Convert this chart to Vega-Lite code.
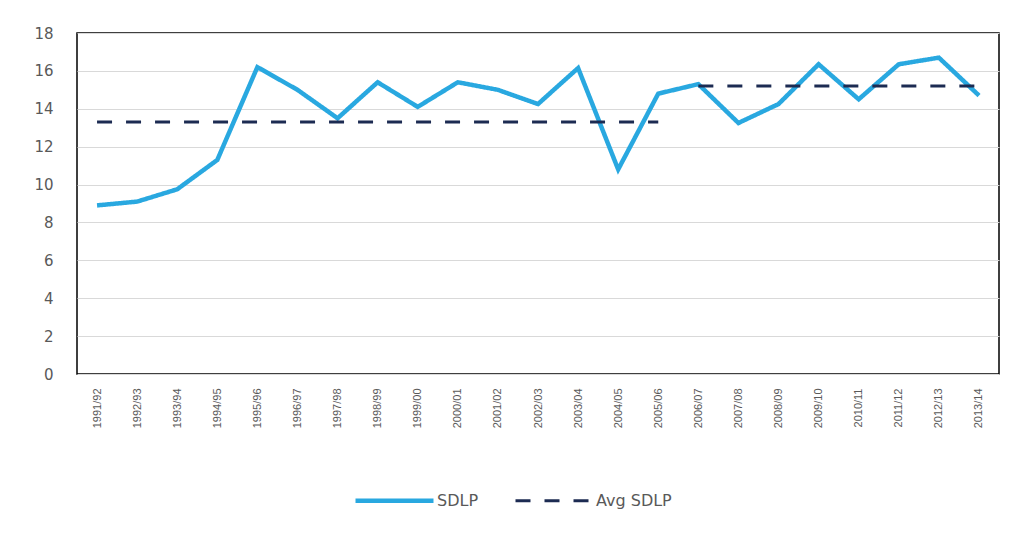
{
  "$schema": "https://vega.github.io/schema/vega-lite/v6.json",
  "autosize": "none",
  "width": 922,
  "height": 341,
  "padding": {"left": 77, "top": 33, "right": 20, "bottom": 160},
  "background": "white",
  "config": {
    "view": {"stroke": "#000000", "strokeWidth": 1.5},
    "axis": {"labelColor": "#595959", "ticks": false, "domain": false, "gridColor": "#D9D9D9", "gridWidth": 1},
    "legend": {
      "orient": "none",
      "legendX": 276,
      "legendY": 452,
      "direction": "horizontal",
      "symbolType": "M-1,0H5",
      "symbolSize": 676,
      "labelFont": "DejaVu Sans",
      "labelFontSize": 16,
      "labelColor": "#595959",
      "labelOffset": 53,
      "columnPadding": 30
    }
  },
  "data": {
    "values": [
      {"year": "1991/92", "series": "SDLP", "seg": "s", "value": 8.9},
      {"year": "1992/93", "series": "SDLP", "seg": "s", "value": 9.1},
      {"year": "1993/94", "series": "SDLP", "seg": "s", "value": 9.75},
      {"year": "1994/95", "series": "SDLP", "seg": "s", "value": 11.3},
      {"year": "1995/96", "series": "SDLP", "seg": "s", "value": 16.2},
      {"year": "1996/97", "series": "SDLP", "seg": "s", "value": 15.0},
      {"year": "1997/98", "series": "SDLP", "seg": "s", "value": 13.5},
      {"year": "1998/99", "series": "SDLP", "seg": "s", "value": 15.4},
      {"year": "1999/00", "series": "SDLP", "seg": "s", "value": 14.1},
      {"year": "2000/01", "series": "SDLP", "seg": "s", "value": 15.4},
      {"year": "2001/02", "series": "SDLP", "seg": "s", "value": 15.0},
      {"year": "2002/03", "series": "SDLP", "seg": "s", "value": 14.25},
      {"year": "2003/04", "series": "SDLP", "seg": "s", "value": 16.15},
      {"year": "2004/05", "series": "SDLP", "seg": "s", "value": 10.8},
      {"year": "2005/06", "series": "SDLP", "seg": "s", "value": 14.8},
      {"year": "2006/07", "series": "SDLP", "seg": "s", "value": 15.3},
      {"year": "2007/08", "series": "SDLP", "seg": "s", "value": 13.25},
      {"year": "2008/09", "series": "SDLP", "seg": "s", "value": 14.25},
      {"year": "2009/10", "series": "SDLP", "seg": "s", "value": 16.35},
      {"year": "2010/11", "series": "SDLP", "seg": "s", "value": 14.5},
      {"year": "2011/12", "series": "SDLP", "seg": "s", "value": 16.35},
      {"year": "2012/13", "series": "SDLP", "seg": "s", "value": 16.7},
      {"year": "2013/14", "series": "SDLP", "seg": "s", "value": 14.7},
      {"year": "1991/92", "series": "Avg SDLP", "seg": "p1", "value": 13.3},
      {"year": "2005/06", "series": "Avg SDLP", "seg": "p1", "value": 13.3},
      {"year": "2006/07", "series": "Avg SDLP", "seg": "p2", "value": 15.2},
      {"year": "2013/14", "series": "Avg SDLP", "seg": "p2", "value": 15.2}
    ]
  },
  "mark": {"type": "line", "strokeCap": "butt"},
  "encoding": {
    "x": {
      "field": "year",
      "type": "ordinal",
      "scale": {"type": "point", "padding": 0.5},
      "axis": {
        "title": null,
        "labelAngle": -90,
        "labelPadding": 14,
        "labelFont": "Liberation Sans",
        "labelFontSize": 11,
        "grid": false
      }
    },
    "y": {
      "field": "value",
      "type": "quantitative",
      "scale": {"domain": [0, 18], "nice": false},
      "axis": {
        "title": null,
        "values": [0, 2, 4, 6, 8, 10, 12, 14, 16, 18],
        "labelPadding": 24,
        "labelFont": "DejaVu Sans",
        "labelFontSize": 15
      }
    },
    "detail": {"field": "seg"},
    "color": {
      "field": "series",
      "type": "nominal",
      "scale": {"domain": ["SDLP", "Avg SDLP"], "range": ["#29A8E0", "#1C2B52"]},
      "legend": {"title": null}
    },
    "strokeDash": {
      "field": "series",
      "type": "nominal",
      "scale": {"domain": ["SDLP", "Avg SDLP"], "range": [[1, 0], [15, 14]]},
      "legend": {"title": null}
    },
    "strokeWidth": {
      "field": "series",
      "type": "nominal",
      "scale": {"domain": ["SDLP", "Avg SDLP"], "range": [4.5, 3]},
      "legend": {"title": null}
    }
  }
}
